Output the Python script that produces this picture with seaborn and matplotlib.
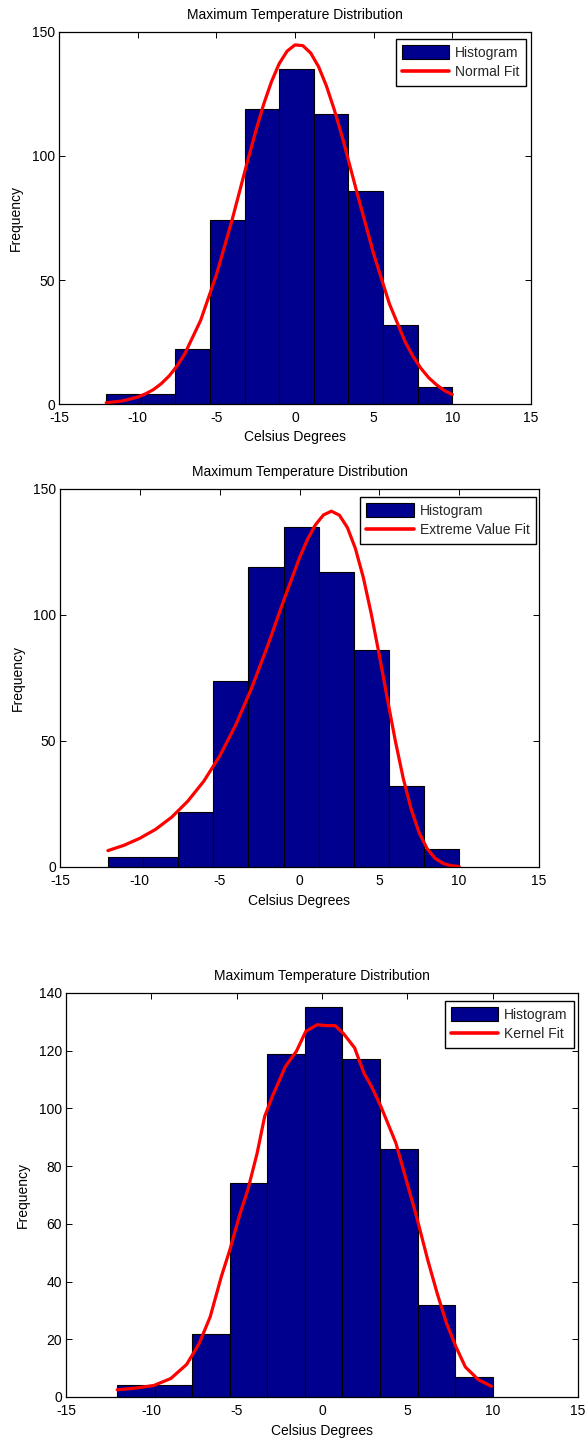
import numpy as np
import pandas as pd
import matplotlib
matplotlib.use("Agg")
import matplotlib.pyplot as plt
import seaborn as sns
from matplotlib.lines import Line2D

# ---- data ----
bin_edges = [-12.0, -9.8, -7.6, -5.4, -3.2, -1.0, 1.2, 3.4, 5.6, 7.8, 10.0]
bin_counts = [4, 4, 22, 74, 119, 135, 117, 86, 32, 7]

normal_x = [-12, -11, -10, -9.5, -9, -8.5, -8, -7.5, -7, -6, -5, -4, -3, -2.5, -2, -1.5, -1,
            -0.5, 0, 0.5, 1, 1.5, 2, 2.5, 3, 4, 5, 6, 7, 7.5, 8, 8.5, 9, 9.5, 10]
normal_y = [0.5, 1.2, 2.8, 4.1, 5.8, 8.2, 11.3, 15.3, 20.3, 33.7, 52, 74.2, 98.3, 109.9,
            120.7, 129.9, 137.3, 142.3, 144.8, 144.5, 141.5, 136.0, 128.2, 118.6, 107.7,
            83.8, 60.5, 40.4, 25.1, 19.2, 14.4, 10.6, 7.7, 5.4, 3.8]

ev_x = [-12, -11, -10, -9, -8, -7, -6, -5, -4, -3, -2, -1, 0, 0.5, 1, 1.5, 2, 2.5, 3, 3.5,
        4, 4.5, 5, 5.5, 6, 6.5, 7, 7.5, 8, 8.5, 9, 9.5, 10]
ev_y = [6.5, 8.6, 11.4, 15.0, 19.8, 26.1, 34.0, 44.0, 56.3, 71.0, 87.7, 105.6, 122.7,
        130.0, 135.8, 139.7, 141.2, 139.6, 134.7, 126.4, 114.8, 100.3, 84.0, 66.8, 50.1,
        35.1, 22.8, 13.5, 7.2, 3.4, 1.4, 0.5, 0.2]

kernel_x = [-12, -10.9, -9.85, -8.86, -7.93, -7.2, -6.55, -5.9, -5.4, -4.8, -4.35, -3.8,
            -3.36, -2.92, -2.15, -1.5, -0.95, -0.29, 0.26, 0.77, 1.25, 1.91, 2.46, 2.9,
            3.45, 4.33, 4.88, 5.54, 6.2, 6.75, 7.3, 7.85, 8.4, 9.16, 9.93]
kernel_y = [2.5, 3.1, 4.0, 6.4, 11.3, 18.5, 27.8, 41.7, 51, 63.6, 71.7, 84.5,
            97.2, 104, 114.5, 119.8, 126.7, 129, 128.7, 128.7, 126, 121, 112.2, 107.6,
            100.7, 88, 76.4, 62.5, 47.4, 35.9, 25.5, 17.4, 10.4, 6.0, 3.7]

title = "Maximum Temperature Distribution"
xlabel = "Celsius Degrees"
ylabel = "Frequency"
fit_labels = ["Normal Fit", "Extreme Value Fit", "Kernel Fit"]
x_ticks = [-15, -10, -5, 0, 5, 10, 15]
y_ticks_list = [[0, 50, 100, 150], [0, 50, 100, 150], [0, 20, 40, 60, 80, 100, 120, 140]]
y_lims = [150, 150, 140]

# ---- styling ----
sns.set_theme(style="white")
plt.rcParams['font.family'] = ['Liberation Sans', 'DejaVu Sans']
plt.rcParams['font.size'] = 10

W, H = 588, 1441
fig = plt.figure(figsize=(W / 100, H / 100), dpi=100)

# axes boxes in pixels: left, right, top, bottom
boxes = [(59, 531, 32, 404), (60, 539, 489, 867), (66, 578, 993, 1397)]
# legend gaps (right, top) in pixels
leg_gaps = [(5, 7), (3, 8), (4, 8)]

bin_centers = [(bin_edges[i] + bin_edges[i + 1]) / 2 for i in range(len(bin_counts))]
hist_df = pd.DataFrame({"x": bin_centers, "w": bin_counts})
curves = [(normal_x, normal_y), (ev_x, ev_y), (kernel_x, kernel_y)]

bar_color = "#00008F"
red = "#FF0000"
fs = 10

for i, (l, r, t, b) in enumerate(boxes):
    axw, axh = r - l, b - t
    ax = fig.add_axes([l / W, 1 - b / H, axw / W, axh / H])
    sns.histplot(data=hist_df, x="x", weights="w", bins=bin_edges, ax=ax,
                 color=bar_color, edgecolor="black", linewidth=0.8, alpha=1.0)
    cx, cy = curves[i]
    sns.lineplot(x=cx, y=cy, ax=ax, color=red, linewidth=2.3, sort=False)

    ax.set_xlim(-15, 15)
    ax.set_ylim(0, y_lims[i])
    ax.set_xticks(x_ticks)
    ax.set_yticks(y_ticks_list[i])
    ax.set_xticklabels([str(v) for v in x_ticks])
    ax.set_yticklabels([str(v) for v in y_ticks_list[i]])
    ax.tick_params(direction="in", length=4, width=0.7, top=True, right=True,
                   bottom=True, left=True, labelsize=fs, colors="black")
    ax.tick_params(axis="x", pad=5)
    ax.tick_params(axis="y", pad=3)
    for s in ax.spines.values():
        s.set_visible(True)
        s.set_color("black")
        s.set_linewidth(0.9)
    ax.set_title(title, fontsize=fs, pad=9.5, color="black")
    ax.set_xlabel(xlabel, fontsize=fs, labelpad=4, color="black")
    ax.set_ylabel(ylabel, fontsize=fs, labelpad=6, color="black")
    ax.set_facecolor("white")

    gx, gy = leg_gaps[i]
    handles = [ax.patches[0], Line2D([0], [0], color=red, linewidth=2.6)]
    leg = ax.legend(handles, ["Histogram", fit_labels[i]], loc="upper right",
                    bbox_to_anchor=(1 - gx / axw, 1 - gy / axh),
                    fancybox=False, framealpha=1, edgecolor="black", fontsize=fs,
                    handlelength=3.4, handleheight=1.15, borderaxespad=0.0,
                    borderpad=0.45, labelspacing=0.35, handletextpad=0.45)
    leg.get_frame().set_linewidth(1.0)

fig.savefig("out.png", dpi=100, facecolor="white")
